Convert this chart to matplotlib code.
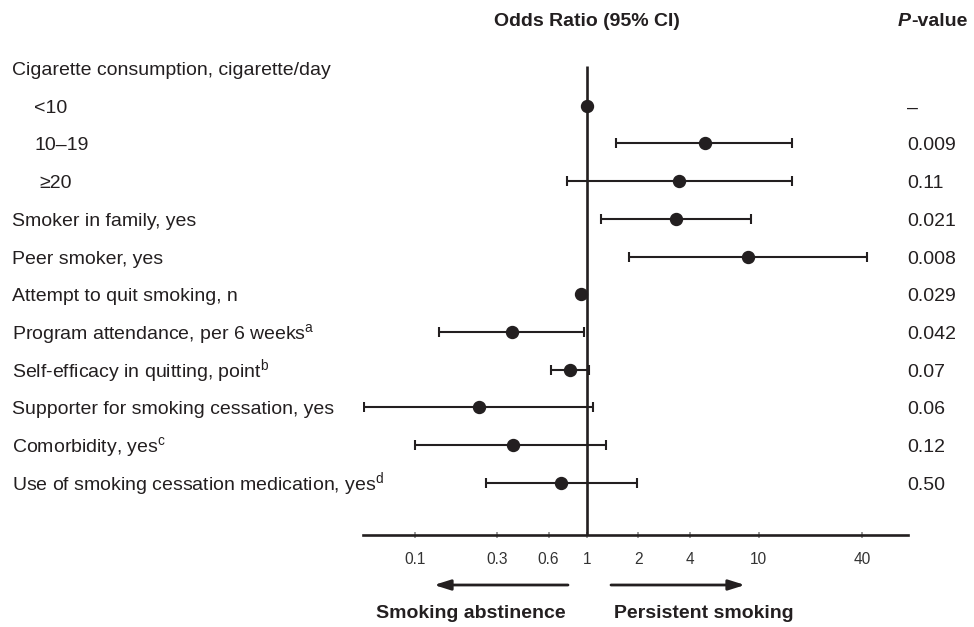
import numpy as np
import matplotlib
matplotlib.use("Agg")
import matplotlib.pyplot as plt
from matplotlib import transforms
from matplotlib.ticker import NullLocator

plt.rcParams['font.family'] = ['Liberation Sans', 'DejaVu Sans']
plt.rcParams['mathtext.fontset'] = 'custom'
plt.rcParams['mathtext.rm'] = 'Liberation Sans'
plt.rcParams['mathtext.it'] = 'Liberation Sans:italic'
plt.rcParams['mathtext.bf'] = 'Liberation Sans:bold'

# ---------------- data ----------------
labels = [
    "Cigarette consumption, cigarette/day",
    "<10",
    "10–19",
    "≥20",
    "Smoker in family, yes",
    "Peer smoker, yes",
    "Attempt to quit smoking, n",
    "Program attendance, per 6 weeks$^{\\mathrm{a}}$",
    "Self-efficacy in quitting, point$^{\\mathrm{b}}$",
    "Supporter for smoking cessation, yes",
    "Comorbidity, yes$^{\\mathrm{c}}$",
    "Use of smoking cessation medication, yes$^{\\mathrm{d}}$",
]
indented = [False, True, True, True, False, False, False, False, False, False, False, False]
odds_ratio = [np.nan, 1.0, 4.87, 3.44, 3.29, 8.64, 0.93, 0.37, 0.80, 0.235, 0.374, 0.71]
ci_low = [np.nan, np.nan, 1.49, 0.765, 1.21, 1.76, 0.90, 0.138, 0.624, 0.0507, 0.101, 0.26]
ci_high = [np.nan, np.nan, 15.7, 15.6, 8.98, 42.9, 0.96, 0.97, 1.03, 1.09, 1.30, 1.95]
p_values = ["", "–", "0.009", "0.11", "0.021", "0.008", "0.029", "0.042", "0.07", "0.06", "0.12", "0.50"]
tick_values = [0.1, 0.3, 0.6, 1, 2, 4, 10, 40]
tick_labels = ["0.1", "0.3", "0.6", "1", "2", "4", "10", "40"]

# ---------------- layout helpers ----------------
W, H = 974, 627
C = '#231f20'
ROW0, STEP = 68.0, 37.7
BASE = 7.0 / STEP   # offset from row centre to text baseline (in rows)

def row_of(px):
    return (px - ROW0) / STEP

def fx(px):
    return px / W

def fy(px):
    return 1 - px / H

fig = plt.figure(figsize=(W / 100, H / 100), dpi=100)
ax = fig.add_axes([fx(363), 0, (908 - 363) / W, 1])
ax.set_xscale('log')
X0, XS = 586.7, 172.0
ax.set_xlim(10 ** ((363 - X0) / XS), 10 ** ((908 - X0) / XS))
ax.set_ylim(row_of(H), row_of(0))
ax.patch.set_alpha(0)

for s in ['top', 'left', 'right']:
    ax.spines[s].set_visible(False)
ax.spines['bottom'].set_position(('data', row_of(535)))
ax.spines['bottom'].set_linewidth(1.9)
ax.spines['bottom'].set_color(C)
ax.set_yticks([])
ax.set_xticks(tick_values)
ax.set_xticklabels(tick_labels)
ax.xaxis.set_minor_locator(NullLocator())
ax.tick_params(axis='x', direction='inout', length=5, width=1.2, color='#8a8a8a',
               labelsize=11.2, labelcolor='#333333', pad=10)

# reference line at OR = 1
ax.plot([1, 1], [row_of(66), row_of(535)], color=C, lw=1.9, solid_capstyle='butt', zorder=2)

rows = np.arange(len(labels))
orv = np.array(odds_ratio)
lo = np.array(ci_low)
hi = np.array(ci_high)
has_ci = ~np.isnan(lo)
ax.errorbar(orv[has_ci], rows[has_ci],
            xerr=[orv[has_ci] - lo[has_ci], hi[has_ci] - orv[has_ci]],
            fmt='o', color=C, ms=8.6, elinewidth=1.5, capsize=3.6, capthick=1.5, zorder=3)
only_pt = (~has_ci) & (~np.isnan(orv))
ax.plot(orv[only_pt], rows[only_pt], 'o', color=C, ms=8.6, zorder=3)

# ---------------- texts ----------------
tr = transforms.blended_transform_factory(fig.transFigure, ax.transData)
for i, (lab, ind) in enumerate(zip(labels, indented)):
    x = 34 if ind else 12
    if lab.startswith('≥'):
        x = 39
    ax.text(fx(x), i + BASE, lab, transform=tr, ha='left', va='baseline', fontsize=14,
            color=C, clip_on=False)
for i, p in enumerate(p_values):
    if p:
        ax.text(fx(907), i + BASE, p, transform=tr, ha='left', va='baseline', fontsize=14,
                color=C, clip_on=False)

fig.text(fx(587), fy(21), "Odds Ratio (95% CI)", ha='center', va='center',
         fontsize=14, fontweight='bold', color=C)
tP = fig.text(fx(898), fy(21), "P", ha='left', va='center', fontsize=14,
              fontweight='bold', fontstyle='italic', color=C)
ax.annotate("-value", xy=(1, 0.5), xycoords=tP, ha='left', va='center',
            fontsize=14, fontweight='bold', color=C, annotation_clip=False)

# direction arrows
arrow_kw = dict(arrowstyle='-|>,head_length=0.7,head_width=0.22', lw=2.0, color=C,
                shrinkA=0, shrinkB=0, mutation_scale=14)
fig.add_artist(matplotlib.patches.FancyArrowPatch((fx(568), fy(585)), (fx(434), fy(585)),
                                                  transform=fig.transFigure, **arrow_kw))
fig.add_artist(matplotlib.patches.FancyArrowPatch((fx(611), fy(585)), (fx(745), fy(585)),
                                                  transform=fig.transFigure, **arrow_kw))
fig.text(fx(566), fy(613), "Smoking abstinence", ha='right', va='center',
         fontsize=14, fontweight='bold', color=C)
fig.text(fx(614), fy(613), "Persistent smoking", ha='left', va='center',
         fontsize=14, fontweight='bold', color=C)

fig.savefig("out.png", dpi=100)
